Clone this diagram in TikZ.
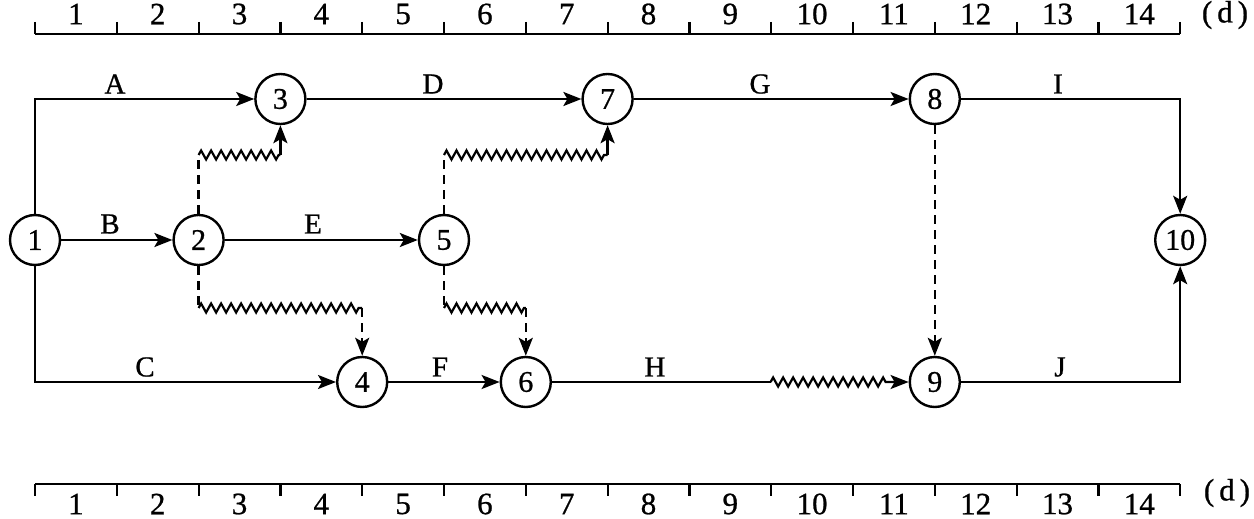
\documentclass[tikz,border=0pt]{standalone}
\usepackage{fontspec}
\setmainfont{Liberation Serif}[FakeBold=0.8]
\usetikzlibrary{arrows.meta,decorations.pathmorphing}
\begin{document}
\begin{tikzpicture}[x=1pt,y=-1pt,
  ev/.style={circle, draw, line width=2.4pt, minimum size=50pt, inner sep=0pt, font=\fontsize{30}{32}\selectfont},
  ln/.style={line width=2.4pt},
  act/.style={line width=2.4pt, -{Stealth[length=18pt,width=14pt,inset=4pt]}},
  dum/.style={line width=2.4pt, dash pattern=on 9pt off 6pt},
  wave/.style={line width=2.2pt, decorate, decoration={zigzag,segment length=10pt,amplitude=4.5pt}},
  lab/.style={font=\fontsize{29}{31}\selectfont, inner sep=0pt},
  axn/.style={font=\fontsize{31}{33}\selectfont, inner sep=0pt},
  axl/.style={line width=2.2pt}]
\useasboundingbox (0,0) rectangle (1254,519);
% time scales
\draw[axl] (35,34) -- (1180.2,34);
\draw[axl] (35,484) -- (1180.2,484);
\foreach \i in {0,...,14}{
  \draw[axl] ({35+81.8*\i},22) -- ({35+81.8*\i},34);
  \draw[axl] ({35+81.8*\i},484) -- ({35+81.8*\i},496);
}
\foreach \i in {1,...,14}{
  \node[axn] (tt\i) at ({35+81.8*(\i-0.5)},14) {\i};
  \node[axn] (tb\i) at ({35+81.8*(\i-0.5)},504) {\i};
}
\node[axn] (dtop) at (1225,15) {(\hspace{5pt}d\hspace{5pt})};
\node[axn] (dbot) at (1227,493) {(\hspace{5pt}d\hspace{5pt})};
% events
\node[ev] (n1) at (35,240) {1};
\node[ev] (n2) at (198.6,240) {2};
\node[ev] (n3) at (280.4,99) {3};
\node[ev] (n4) at (362.2,382) {4};
\node[ev] (n5) at (444,240) {5};
\node[ev] (n6) at (525.8,382) {6};
\node[ev] (n7) at (607.6,99) {7};
\node[ev] (n8) at (934.8,99) {8};
\node[ev] (n9) at (934.8,382) {9};
\node[ev] (n10) at (1180.2,240) {10};
% bend points
\coordinate (d23a) at (198.6,155);
\coordinate (d23b) at (280.4,155);
\coordinate (d24a) at (198.6,308);
\coordinate (d24b) at (362.2,308);
\coordinate (d57a) at (444,155);
\coordinate (d57b) at (607.6,155);
\coordinate (d56a) at (444,308);
\coordinate (d56b) at (525.8,308);
\coordinate (hz) at (770.6,382);
% activities
\draw[act] (n1) |- (n3);
\draw[act] (n1) -- (n2);
\draw[act] (n1) |- (n4);
\draw[act] (n3) -- (n7);
\draw[act] (n2) -- (n5);
\draw[act] (n4) -- (n6);
\draw[act] (n7) -- (n8);
\draw[ln] (n6) -- (hz);
\draw[act, line width=2.2pt, decorate, decoration={zigzag,segment length=10pt,amplitude=4.5pt,post length=19pt}] (hz) -- (n9);
\draw[act] (n8) -| (n10);
\draw[act] (n9) -| (n10);
% dummies with free float
\draw[dum] (n2) -- (d23a);
\draw[wave] (d23a) -- (d23b);
\draw[act] (d23b) -- (n3);
\draw[dum] (n2) -- (d24a);
\draw[wave] (d24a) -- (d24b);
\draw[act, dash pattern=on 9pt off 6pt] (d24b) -- (n4);
\draw[dum] (n5) -- (d57a);
\draw[wave] (d57a) -- (d57b);
\draw[act] (d57b) -- (n7);
\draw[dum] (n5) -- (d56a);
\draw[wave] (d56a) -- (d56b);
\draw[act, dash pattern=on 9pt off 6pt] (d56b) -- (n6);
\draw[act, dash pattern=on 9pt off 6pt] (n8) -- (n9);
% labels
\node[lab] (lA) at (115,84) {A};
\node[lab] (lB) at (110,224) {B};
\node[lab] (lC) at (145,367) {C};
\node[lab] (lD) at (433,84) {D};
\node[lab] (lE) at (313,224) {E};
\node[lab] (lF) at (440,367) {F};
\node[lab] (lG) at (760,84) {G};
\node[lab] (lH) at (655,367) {H};
\node[lab] (lI) at (1058,84) {I};
\node[lab] (lJ) at (1060,367) {J};
\end{tikzpicture}
\end{document}
